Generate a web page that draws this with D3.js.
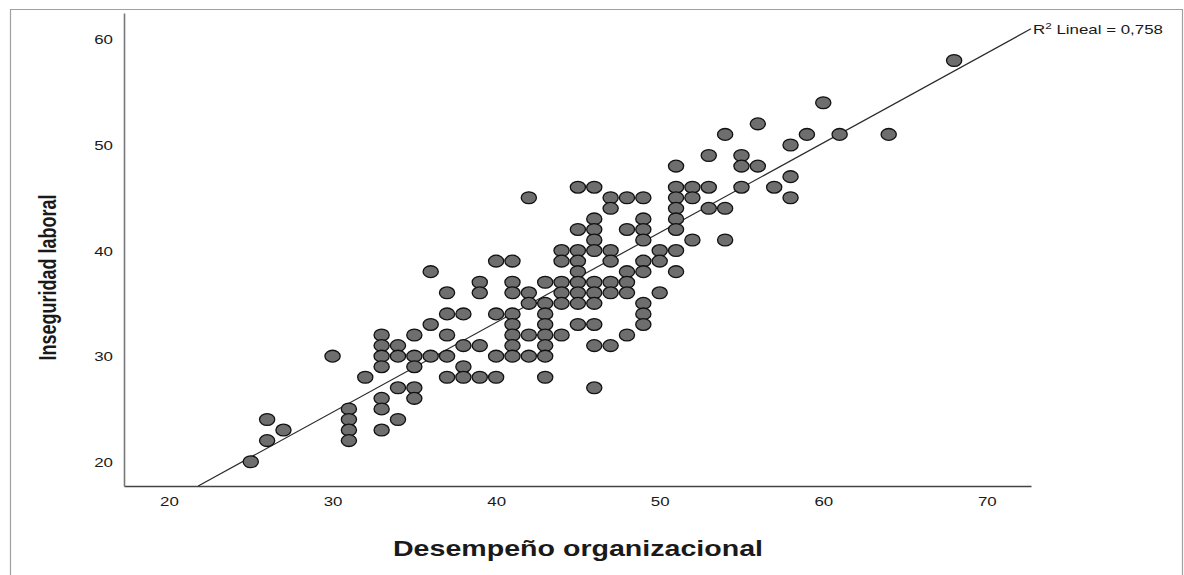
<!DOCTYPE html>
<html>
<head>
<meta charset="utf-8">
<script src="https://cdn.jsdelivr.net/npm/d3@7"></script>
<style>
  body { margin: 0; background: #fff; }
  svg { display: block; }
  text { font-family: "Liberation Sans", Arial, sans-serif; fill: #1a1a1a; }
</style>
</head>
<body>
<div id="chart"></div>
<script>
// tick labels
const xTicks = [20, 30, 40, 50, 60, 70];
const yTicks = [20, 30, 40, 50, 60];

// Desempeño organizacional (x) and Inseguridad laboral (y), one line per x column
const desempeno = [
  25,
  26, 26,
  27,
  30,
  31, 31, 31, 31,
  32,
  33, 33, 33, 33, 33, 33, 33,
  34, 34, 34, 34,
  35, 35, 35, 35, 35,
  36, 36, 36,
  37, 37, 37, 37, 37,
  38, 38, 38, 38,
  39, 39, 39, 39,
  40, 40, 40, 40,
  41, 41, 41, 41, 41, 41, 41, 41,
  42, 42, 42, 42, 42,
  43, 43, 43, 43, 43, 43, 43, 43,
  44, 44, 44, 44, 44, 44,
  45, 45, 45, 45, 45, 45, 45, 45, 45,
  46, 46, 46, 46, 46, 46, 46, 46, 46, 46, 46,
  47, 47, 47, 47, 47, 47, 47,
  48, 48, 48, 48, 48, 48,
  49, 49, 49, 49, 49, 49, 49, 49, 49,
  50, 50, 50,
  51, 51, 51, 51, 51, 51, 51, 51,
  52, 52, 52,
  53, 53, 53,
  54, 54, 54,
  55, 55, 55,
  56, 56,
  57,
  58, 58, 58,
  59,
  60,
  61,
  64,
  68
];
const inseguridad = [
  20,
  24, 22,
  23,
  30,
  25, 24, 23, 22,
  28,
  32, 31, 30, 29, 26, 25, 23,
  31, 30, 27, 24,
  32, 30, 29, 27, 26,
  38, 33, 30,
  36, 34, 32, 30, 28,
  34, 31, 29, 28,
  37, 36, 31, 28,
  39, 34, 30, 28,
  39, 37, 36, 34, 33, 32, 31, 30,
  45, 36, 35, 32, 30,
  37, 35, 34, 33, 32, 31, 30, 28,
  40, 39, 37, 36, 35, 32,
  46, 42, 40, 39, 38, 37, 36, 35, 33,
  46, 43, 42, 41, 40, 37, 36, 35, 33, 31, 27,
  45, 44, 40, 39, 37, 36, 31,
  45, 42, 38, 37, 36, 32,
  45, 43, 42, 41, 39, 38, 35, 34, 33,
  40, 39, 36,
  48, 46, 45, 44, 43, 42, 40, 38,
  46, 45, 41,
  49, 46, 44,
  51, 44, 41,
  49, 48, 46,
  52, 48,
  46,
  50, 47, 45,
  51,
  54,
  51,
  51,
  58
];
// fit line as drawn in the original (full sample, R2 = 0.758)
const fitSlope = 0.8505;
const fitIntercept = -0.83;
const fitLabel = "Lineal = 0,758";

const width = 1184, height = 575;
const stretch = 1.3; // the original picture is widened horizontally

const svg = d3.select("#chart")
  .append("svg")
    .attr("width", width)
    .attr("height", height);

// outer frame
svg.append("path")
  .attr("d", `M10.5,${height} V9.5 H1182.5 V${height}`)
  .attr("fill", "none")
  .attr("stroke", "#a0a0a0")
  .attr("stroke-width", 1.2);

const x = d3.scaleLinear().domain([17.25, 72.7]).range([124, 1031]);
const y = d3.scaleLinear().domain([17.7, 62.5]).range([486, 13]);

const data = desempeno.map((d, i) => ({x: d, y: inseguridad[i]}));

// x axis
const gx = svg.append("g")
  .attr("transform", `translate(0,${y.range()[0]})`)
  .call(d3.axisBottom(x).tickValues(xTicks).tickSize(0).tickSizeOuter(0).tickPadding(0));
gx.select(".domain").attr("stroke", "#444").attr("stroke-width", 1.3);
gx.selectAll(".tick text")
  .attr("y", 20)
  .attr("dy", 0)
  .attr("transform", `scale(${stretch},1)`)
  .style("font-size", "13px")
  .style("fill", "#1a1a1a");

// y axis
const gy = svg.append("g")
  .attr("transform", `translate(${x.range()[0]},0)`)
  .call(d3.axisLeft(y).tickValues(yTicks).tickSize(0).tickSizeOuter(0).tickPadding(0));
gy.select(".domain").attr("stroke", "#777").attr("stroke-width", 1.6);
gy.selectAll(".tick text")
  .attr("x", -11 / stretch)
  .attr("dy", "0.35em")
  .attr("transform", `scale(${stretch},1)`)
  .style("font-size", "13px")
  .style("fill", "#1a1a1a");

// axis titles
svg.append("text")
  .attr("transform", `translate(578,556) scale(${stretch},1)`)
  .attr("text-anchor", "middle")
  .style("font-size", "22px")
  .style("font-weight", "bold")
  .text("Desempeño organizacional");

svg.append("text")
  .attr("transform", `translate(56,${(13 + 486) / 2 + 28}) scale(${stretch},1) rotate(-90)`)
  .attr("text-anchor", "middle")
  .style("font-size", "18px")
  .style("font-weight", "bold")
  .text("Inseguridad laboral");

// fit line, from the x axis to the right end of the plot
const x0 = (y.domain()[0] - fitIntercept) / fitSlope;
const x1 = x.domain()[1];
const fit = [x0, x1].map(v => [v, fitIntercept + fitSlope * v]);

svg.append("path")
  .datum(fit)
  .attr("d", d3.line().x(d => x(d[0])).y(d => y(d[1])))
  .attr("fill", "none")
  .attr("stroke", "#2a2a2a")
  .attr("stroke-width", 1.2);

// points
svg.append("g")
  .selectAll("ellipse")
  .data(data)
  .join("ellipse")
    .attr("cx", d => x(d.x))
    .attr("cy", d => y(d.y))
    .attr("rx", 7.6)
    .attr("ry", 5.9)
    .attr("fill", "#6e6e6e")
    .attr("stroke", "#111")
    .attr("stroke-width", 1.3);

// fit label
const lab = svg.append("text")
  .attr("transform", `translate(${x(x1) + 2},${y(fit[1][1]) + 5}) scale(${stretch},1)`)
  .style("font-size", "13px");
lab.append("tspan").text("R");
lab.append("tspan").attr("dy", -5).style("font-size", "9px").text("2");
lab.append("tspan").attr("dy", 5).text(" " + fitLabel);
</script>
</body>
</html>
